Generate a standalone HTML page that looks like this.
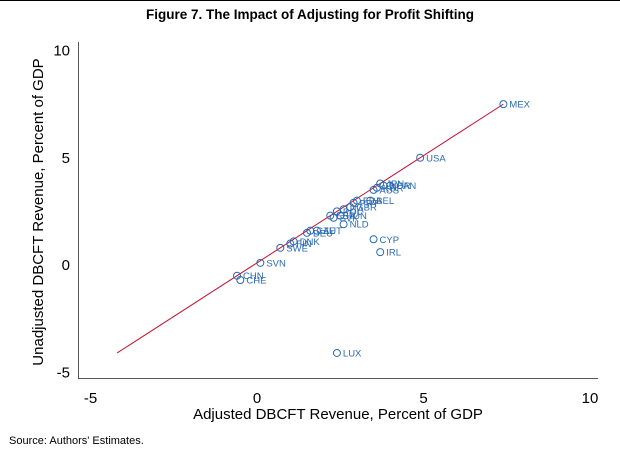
<!DOCTYPE html>
<html><head><meta charset="utf-8"><style>
body{margin:0;background:#fff;width:620px;height:453px;overflow:hidden;font-family:"Liberation Sans",sans-serif}
svg text{font-family:"Liberation Sans",sans-serif}
</style></head><body>
<svg width="620" height="453">
<line x1="0" y1="0.5" x2="620" y2="0.5" stroke="#000" stroke-width="1"/>
<text x="310" y="19" text-anchor="middle" font-size="13.5" font-weight="bold">Figure 7. The Impact of Adjusting for Profit Shifting</text>
<line x1="78.5" y1="42" x2="78.5" y2="379" stroke="#555"/>
<line x1="78" y1="378.5" x2="598" y2="378.5" stroke="#555"/>
<g id="ticks"></g>
<line id="fit" stroke="#c8102e" stroke-width="1"/>
<g id="pts"></g>
<text x="338" y="419" text-anchor="middle" font-size="15">Adjusted DBCFT Revenue, Percent of GDP</text>
<text transform="translate(43,212) rotate(-90)" text-anchor="middle" font-size="15">Unadjusted DBCFT Revenue, Percent of GDP</text>
<text x="9" y="444" font-size="11">Source: Authors' Estimates.</text>
</svg>
<script>
const xTicks=[-5,0,5,10];
const yTicks=[10,5,0,-5];
const countries=["MEX","USA","LUX","CYP","IRL","SVN","CHN","CHE","SWE","DNK","FIN","CZE","AUT","NLD","ESP","POL","ITA","GBR","FRA","BEL","JPN","KOR","NOR","CAN","AUS","DEU","PRT","HUN","SVK"];
const xVals=[7.4,4.9,2.4,3.5,3.7,0.1,-0.6,-0.5,0.7,1.1,1.0,1.6,1.8,2.6,2.2,2.4,2.6,2.8,3.0,3.4,3.7,3.6,3.8,4.0,3.5,1.5,2.9,2.5,2.3];
const yVals=[7.5,5.0,-4.1,1.2,0.6,0.1,-0.5,-0.7,0.8,1.1,1.0,1.6,1.6,1.9,2.3,2.5,2.6,2.7,3.0,3.0,3.8,3.6,3.7,3.7,3.5,1.5,2.9,2.3,2.2];
const labeled={MEX:1,USA:1,LUX:1,CYP:1,IRL:1,SVN:1,CHN:1,CHE:1,SWE:1,DNK:1,CZE:1,NLD:1,ESP:1,ITA:1,FRA:1,BEL:1,JPN:1,NOR:1,AUT:1,GBR:1};
const fitX=[-4.2,7.4];
const fitY=[-4.1,7.5];
const X=v=>257+v*33.3, Y=v=>265-v*21.45;
const NS="http://www.w3.org/2000/svg";
const tg=document.getElementById('ticks');
xTicks.forEach(t=>{const e=document.createElementNS(NS,'text');e.setAttribute('x',X(t));e.setAttribute('y',403);e.setAttribute('text-anchor','middle');e.setAttribute('font-size','15');e.textContent=t;


tg.appendChild(e);});
yTicks.forEach(t=>{const e=document.createElementNS(NS,'text');e.setAttribute('x',70);e.setAttribute('y',Y(t)+5);e.setAttribute('text-anchor','end');e.setAttribute('font-size','15');e.textContent=t;


tg.appendChild(e);});
const f=document.getElementById('fit');
f.setAttribute('x1',X(fitX[0]));f.setAttribute('y1',Y(fitY[0]));f.setAttribute('x2',X(fitX[1]));f.setAttribute('y2',Y(fitY[1]));
const pg=document.getElementById('pts');
countries.forEach((c,i)=>{
const ci=document.createElementNS(NS,'circle');ci.setAttribute('cx',X(xVals[i]));ci.setAttribute('cy',Y(yVals[i]));ci.setAttribute('r',3.5);ci.setAttribute('fill','none');ci.setAttribute('stroke','#2a6ab3');


pg.appendChild(ci);
const t=document.createElementNS(NS,'text');t.setAttribute('x',X(xVals[i])+6);t.setAttribute('y',Y(yVals[i])+3.5);t.setAttribute('font-size','9.5');t.setAttribute('fill','#2a6ab3');t.textContent=c;


pg.appendChild(t);
});
</script>
</body></html>
